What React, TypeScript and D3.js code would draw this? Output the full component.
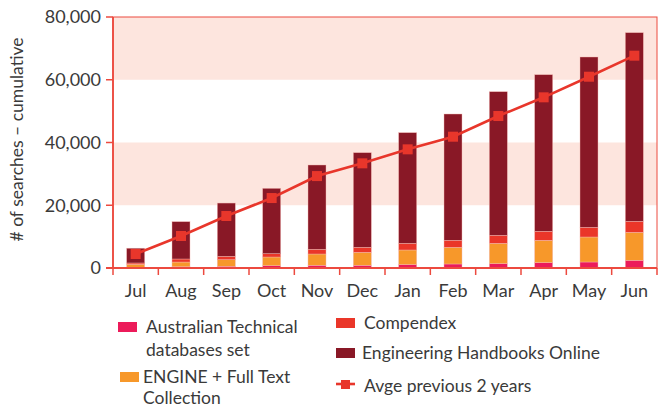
import React from "react";
import * as d3 from "d3";

const months = ["Jul", "Aug", "Sep", "Oct", "Nov", "Dec", "Jan", "Feb", "Mar", "Apr", "May", "Jun"];
const australian = [200, 400, 540, 730, 860, 860, 1080, 1280, 1400, 1720, 1910, 2450];
const engine = [1000, 1500, 2110, 2770, 3600, 4140, 4660, 5320, 6470, 7110, 7970, 8930];
const compendex = [400, 970, 1070, 1060, 1500, 1600, 2130, 2230, 2550, 2870, 3090, 3500];
const handbooks = [4700, 11890, 16980, 20830, 26870, 30150, 35260, 40250, 45770, 49910, 54280, 60120];
const avgPrev = [4460, 10200, 16570, 22300, 29300, 33360, 37820, 41850, 48440, 54400, 60970, 67670];
const yTicks = [0, 20000, 40000, 60000, 80000];
const bands = [[20000, 40000], [60000, 80000]];

const seriesKeys = ["australian", "engine", "compendex", "handbooks"];
const colors: Record<string, string> = {
  australian: "#ec1b5a",
  engine: "#f7982a",
  compendex: "#ea3629",
  handbooks: "#891826",
};
const lineColor = "#e8362b";
const axisColor = "#ec4a3f";
const textColor = "#3a3a3a";
const font = "Lato, 'Noto Sans', sans-serif";

export default function App() {
  const width = 662;
  const height = 410;
  const m = { top: 17, right: 5, bottom: 142, left: 113 };

  const x = d3.scaleBand().domain(months).range([m.left, width - m.right]).paddingInner(0).paddingOuter(0);
  const y = d3.scaleLinear().domain([0, 80000]).range([height - m.bottom, m.top]);

  const table = months.map((mo, i) => ({
    month: mo,
    australian: australian[i],
    engine: engine[i],
    compendex: compendex[i],
    handbooks: handbooks[i],
  }));
  const stacked = d3.stack<any>().keys(seriesKeys)(table);
  const barW = 18;

  const line = d3
    .line<number>()
    .x((_, i) => (x(months[i]) as number) + x.bandwidth() / 2)
    .y((d) => y(d));

  const fmt = d3.format(",");
  const y0 = y(0);
  const tickXs = months.map((mo) => x(mo) as number).concat([width - m.right]);

  // legend entries (swatch position, text lines, text x)
  const legend = [
    { key: "australian", x: 118, y: 322, lines: ["Australian Technical", "databases set"], tx: 146, gap: 23 },
    { key: "engine", x: 120, y: 372, lines: ["ENGINE + Full Text", "Collection"], tx: 143, gap: 21 },
    { key: "compendex", x: 336, y: 318, lines: ["Compendex"], tx: 364, gap: 23 },
    { key: "handbooks", x: 336, y: 348, lines: ["Engineering Handbooks Online"], tx: 362, gap: 23 },
  ];

  return (
    <div style={{ position: "absolute", left: 0, top: 0 }}>
      <svg width={width} height={height} style={{ display: "block", background: "#fff" }}>
        {/* shaded bands */}
        {bands.map(([a, b]) => (
          <rect key={a} x={m.left} y={y(b)} width={width - m.right - m.left} height={y(a) - y(b)} fill="#fde5de" />
        ))}

        {/* bars */}
        {stacked.map((s) => (
          <g key={s.key} fill={colors[s.key]}>
            {s.map((d, i) => (
              <rect
                key={i}
                x={(x(months[i]) as number) + (x.bandwidth() - barW) / 2}
                y={y(d[1])}
                width={barW}
                height={y(d[0]) - y(d[1])}
                stroke="#f4b7b0"
                strokeWidth={0.6}
                strokeOpacity={0.7}
              />
            ))}
          </g>
        ))}

        {/* frame */}
        <rect x={m.left} y={m.top} width={width - m.right - m.left} height={y0 - m.top} fill="none" stroke={axisColor} strokeWidth={1} />
        <line x1={m.left} x2={m.left} y1={m.top} y2={y0} stroke={axisColor} strokeWidth={1.8} />
        <line x1={m.left - 7} x2={width - m.right} y1={y0} y2={y0} stroke={axisColor} strokeWidth={1.8} />

        {/* y axis ticks and labels */}
        {yTicks.map((t) => (
          <g key={t}>
            <line x1={m.left - 7} x2={m.left} y1={y(t)} y2={y(t)} stroke={axisColor} strokeWidth={1.5} />
            <text x={m.left - 12} y={y(t)} dy="0.36em" textAnchor="end" fontFamily={font} fontSize={18} fill={textColor}>
              {fmt(t)}
            </text>
          </g>
        ))}
        <text
          transform={`translate(23,${(m.top + y0) / 2 - 3}) rotate(-90)`}
          textAnchor="middle"
          fontFamily={font}
          fontSize={17.5}
          fill={textColor}
        >
          # of searches – cumulative
        </text>

        {/* x axis ticks and labels */}
        {tickXs.map((tx, i) => (
          <line key={i} x1={tx} x2={tx} y1={y0} y2={y0 + 7} stroke={axisColor} strokeWidth={1.5} />
        ))}
        {months.map((mo) => (
          <text
            key={mo}
            x={(x(mo) as number) + x.bandwidth() / 2}
            y={y0 + 29}
            textAnchor="middle"
            fontFamily={font}
            fontSize={18}
            fill={textColor}
          >
            {mo}
          </text>
        ))}

        {/* average line */}
        <path d={line(avgPrev) as string} fill="none" stroke={lineColor} strokeWidth={2.6} />
        {avgPrev.map((v, i) => (
          <rect
            key={i}
            x={(x(months[i]) as number) + x.bandwidth() / 2 - 5}
            y={y(v) - 5}
            width={10}
            height={10}
            fill={lineColor}
          />
        ))}

        {/* legend */}
        {legend.map((l) => (
          <g key={l.key}>
            <rect x={l.x} y={l.y} width={19} height={10} fill={colors[l.key]} />
            {l.lines.map((t, j) => (
              <text key={j} x={l.tx} y={l.y + 11 + j * l.gap} fontFamily={font} fontSize={17.5} fill={textColor}>
                {t}
              </text>
            ))}
          </g>
        ))}
        <g>
          <line x1={336} x2={355} y1={384} y2={384} stroke={lineColor} strokeWidth={2.6} />
          <rect x={341} y={380} width={9} height={9} fill={lineColor} />
          <text x={364} y={392} fontFamily={font} fontSize={17.5} fill={textColor}>
            Avge previous 2 years
          </text>
        </g>
      </svg>
    </div>
  );
}
